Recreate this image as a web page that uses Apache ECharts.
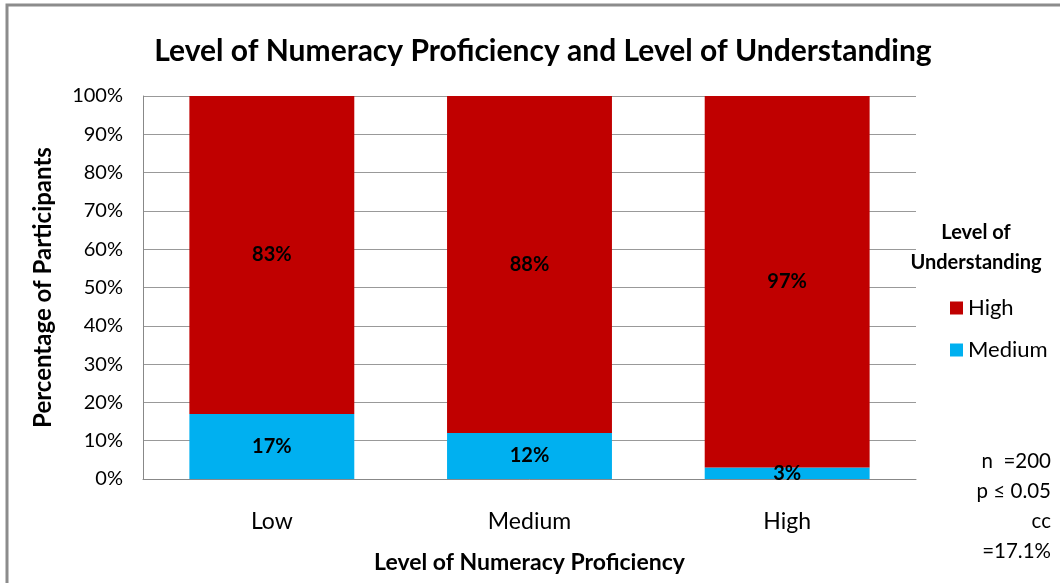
<!DOCTYPE html>
<html><head><meta charset="utf-8">
<script src="https://cdn.jsdelivr.net/npm/echarts@6/dist/echarts.min.js"></script>
<style>html,body{margin:0;padding:0;background:#fff}#c{width:1060px;height:583px}</style>
</head><body><div id="c"></div>
<script>
const categories = ['Low', 'Medium', 'High'];
const mediumValues = [17, 12, 3];
const highValues = [83, 88, 97];
const yTicks = [0, 10, 20, 30, 40, 50, 60, 70, 80, 90, 100];
const annotations = ['n  =200', 'p \u2264 0.05', 'cc', '=17.1%'];

const FONT = 'Lato';
const chart = echarts.init(document.getElementById('c'), null, {renderer: 'canvas'});
const labelStyle = {show: true, position: 'inside', color: '#000', fontFamily: FONT, fontWeight: 'bold', fontSize: 20, formatter: p => p.value + '%'};
chart.setOption({
  animation: false,
  backgroundColor: '#fff',
  title: {text: 'Level of Numeracy Proficiency and Level of Understanding', left: 538, top: 31, textAlign: 'center',
    textStyle: {fontFamily: FONT, fontWeight: 'bold', fontSize: 30, color: '#000'}},
  grid: {left: 143, right: 144, top: 96, bottom: 104},
  legend: {orient: 'vertical', left: 945, top: 292, itemWidth: 13, itemHeight: 13, itemGap: 20, icon: 'rect',
    data: ['High', 'Medium'], textStyle: {fontFamily: FONT, fontSize: 22, color: '#000'}},
  xAxis: {type: 'category', data: categories,
    name: 'Level of Numeracy Proficiency', nameLocation: 'middle', nameGap: 72,
    nameTextStyle: {fontFamily: FONT, fontWeight: 'bold', fontSize: 23, color: '#000'},
    axisLine: {lineStyle: {color: '#888'}}, axisTick: {show: false},
    axisLabel: {fontFamily: FONT, fontSize: 23, color: '#000', margin: 31}},
  yAxis: {type: 'value', min: 0, max: 100, interval: 10,
    name: 'Percentage of Participants', nameLocation: 'middle', nameGap: 88, nameRotate: 90,
    nameTextStyle: {fontFamily: FONT, fontWeight: 'bold', fontSize: 24, color: '#000'},
    axisLine: {show: true, lineStyle: {color: '#888'}}, axisTick: {show: false},
    splitLine: {lineStyle: {color: '#999', width: 1}},
    axisLabel: {fontFamily: FONT, fontSize: 20, color: '#000', margin: 20,
      formatter: v => yTicks.includes(v) ? v + '%' : ''}},
  series: [
    {name: 'Medium', type: 'bar', stack: 'a', data: mediumValues, barWidth: '64%', itemStyle: {color: '#00B0F0'}, label: labelStyle},
    {name: 'High', type: 'bar', stack: 'a', data: highValues, barWidth: '64%', itemStyle: {color: '#C00000'}, label: labelStyle}
  ],
  graphic: [
    {type: 'rect', shape: {x: 7, y: 5, width: 1100, height: 700}, style: {fill: 'none', stroke: '#8c8c8c', lineWidth: 3}, silent: true},
    {type: 'text', x: 976, y: 218, style: {text: 'Level of\nUnderstanding', textAlign: 'center', fontFamily: FONT, fontWeight: 'bold', fontSize: 20, lineHeight: 30, fill: '#000'}},
    {type: 'text', x: 1051, y: 446, style: {text: annotations.join('\n'), textAlign: 'right', fontFamily: FONT, fontSize: 20.5, lineHeight: 30, fill: '#000'}}
  ]
});
</script></body></html>
